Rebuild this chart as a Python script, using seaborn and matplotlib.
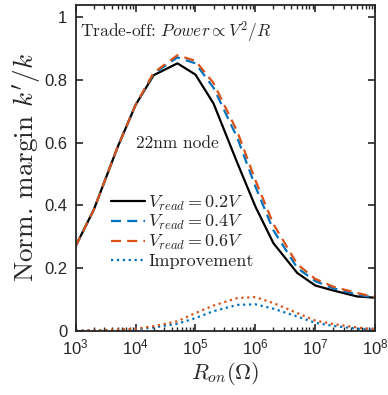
import matplotlib
matplotlib.use("Agg")
import matplotlib.pyplot as plt
import seaborn as sns
import pandas as pd
import numpy as np
from matplotlib.ticker import LogLocator, FixedLocator

# -----------------------------------------------------------------------------
# DATA
# -----------------------------------------------------------------------------
r_on = [1e3, 2e3, 5e3, 1e4, 2e4, 5e4, 1e5, 2e5, 5e5, 1e6, 2e6, 5e6, 1e7, 2e7, 5e7, 1e8]

margin_02 = [0.27, 0.385, 0.585, 0.72, 0.815, 0.853, 0.817, 0.725, 0.535, 0.396,
             0.279, 0.184, 0.144, 0.128, 0.109, 0.105]
margin_04 = [0.27, 0.385, 0.585, 0.72, 0.820, 0.872, 0.853, 0.775, 0.615, 0.460,
             0.320, 0.200, 0.158, 0.135, 0.115, 0.105]
margin_06 = [0.27, 0.385, 0.585, 0.72, 0.823, 0.879, 0.861, 0.790, 0.635, 0.480,
             0.340, 0.212, 0.165, 0.140, 0.120, 0.107]

improve_04 = [0.0, 0.001, 0.002, 0.004, 0.010, 0.022, 0.040, 0.062, 0.082, 0.084,
              0.070, 0.045, 0.025, 0.015, 0.006, 0.002]
improve_06 = [0.0, 0.001, 0.003, 0.006, 0.014, 0.030, 0.056, 0.080, 0.104, 0.107,
              0.088, 0.056, 0.032, 0.021, 0.010, 0.003]

series_labels = [r"$V_{read} = 0.2V$", r"$V_{read} = 0.4V$", r"$V_{read} = 0.6V$",
                 "Improvement"]

# -----------------------------------------------------------------------------
# STYLE (MATLAB-like look)
# -----------------------------------------------------------------------------
sns.set_theme(style="ticks")
plt.rcParams.update({
    "font.family": ["Liberation Sans", "DejaVu Sans"],
    "mathtext.fontset": "cm",
    "xtick.direction": "in",
    "ytick.direction": "in",
    "xtick.top": True,
    "ytick.right": True,
    "xtick.labelsize": 12,
    "ytick.labelsize": 12,
    "axes.linewidth": 1.3,
    "axes.edgecolor": "#262626",
    "xtick.color": "#262626",
    "ytick.color": "#262626",
})

BLUE = "#0072BD"
ORANGE = "#D95319"
SERIF = "cmr10"

fig = plt.figure(figsize=(3.88, 3.95), dpi=100)
ax = fig.add_axes([0.195, 0.163, 0.772, 0.825])

lw = 1.6
sns.lineplot(x=r_on, y=margin_02, ax=ax, color="black", linewidth=lw, label=series_labels[0])
sns.lineplot(x=r_on, y=margin_04, ax=ax, color=BLUE, linewidth=lw, label=series_labels[1])
sns.lineplot(x=r_on, y=margin_06, ax=ax, color=ORANGE, linewidth=lw, label=series_labels[2])
sns.lineplot(x=r_on, y=improve_04, ax=ax, color=BLUE, linewidth=lw, label=series_labels[3])
sns.lineplot(x=r_on, y=improve_06, ax=ax, color=ORANGE, linewidth=lw, label="_nolegend_")

lines = ax.get_lines()
lines[1].set_dashes((4.5, 2.8))
lines[2].set_dashes((4.5, 2.8))
lines[3].set_linestyle(":")
lines[4].set_linestyle(":")

ax.set_xscale("log")
ax.set_xlim(1e3, 1e8)
ax.set_ylim(0, 1.04)
ax.xaxis.set_major_locator(LogLocator(base=10, numticks=10))
ax.xaxis.set_minor_locator(LogLocator(base=10, subs=np.arange(2, 10), numticks=20))
ax.yaxis.set_major_locator(FixedLocator([0, 0.2, 0.4, 0.6, 0.8, 1.0]))
ax.set_yticklabels(["0", "0.2", "0.4", "0.6", "0.8", "1"])
ax.tick_params(which="major", length=5, width=1.2)
ax.tick_params(which="minor", length=3, width=1.0)
ax.tick_params(axis="x", pad=5)
ax.tick_params(axis="y", pad=6)

ax.set_xlabel(r"$R_{on}(\Omega)$", fontsize=16, labelpad=2)
ax.set_ylabel(r"Norm. margin $k'/k$", fontsize=19.5, family=SERIF, labelpad=1)

ax.text(0.015, 0.915, r"Trade-off: $Power \propto V^2/R$", transform=ax.transAxes,
        fontsize=12.5, family=SERIF, va="center", ha="left")
ax.text(0.34, 0.575, "22nm node", transform=ax.transAxes,
        fontsize=12.5, family=SERIF, va="center", ha="center")

leg = ax.legend(loc="upper left", bbox_to_anchor=(0.107, 0.432), frameon=False,
                borderaxespad=0, borderpad=0.2,
                handlelength=1.85, handletextpad=0.2, labelspacing=0.05,
                prop={"family": SERIF, "size": 13})

fig.savefig("out.png", dpi=100)
